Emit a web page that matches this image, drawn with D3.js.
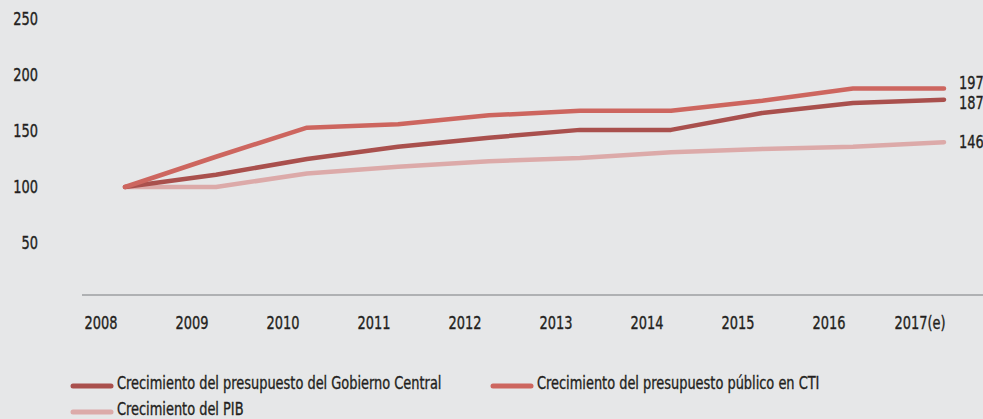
<!DOCTYPE html>
<html>
<head>
<meta charset="utf-8">
<script src="https://cdn.jsdelivr.net/npm/d3@7"></script>
<style>
  body { margin: 0; background: #e6e7e8; }
  svg { display: block; }
  text { font-family: "DejaVu Sans Condensed", "DejaVu Sans", sans-serif; fill: #231f20; stroke: #231f20; stroke-width: 0.35px; font-size: 18px; }
</style>
</head>
<body>
<svg id="chart" width="983" height="419"></svg>
<script>
// years on the x axis
var years = ["2008", "2009", "2010", "2011", "2012", "2013", "2014", "2015", "2016", "2017(e)"];
// index, 2008 = 100
var gobierno = [100, 111, 125, 136, 144, 151, 151, 166, 175, 178];
var cti = [100, 127, 153, 156, 164, 168, 168, 177, 188, 188];
var pib = [100, 100, 112, 118, 123, 126, 131, 134, 136, 140];
var endLabels = ["187", "197", "146"];
var yTicks = [50, 100, 150, 200, 250];
var seriesNames = ["Crecimiento del presupuesto del Gobierno Central", "Crecimiento del presupuesto público en CTI", "Crecimiento del PIB"];
var colors = ["#a9504d", "#cd665f", "#dcaaa9"];

var squeeze = 0.8; // the original font is a narrow one

function place(px, py) {
  return "translate(" + px + "," + py + ") scale(" + squeeze + ",1)";
}

var svg = d3.select("svg");

var x = d3.scalePoint()
    .domain(years)
    .range([101, 920]);
var lineShift = 24; // the lines sit a bit right of the year labels

var y = d3.scaleLinear()
    .domain([0, 250])
    .range([299, 19]);

// y axis labels, no line
svg.append("g")
    .selectAll("text")
    .data(yTicks)
    .join("text")
      .attr("transform", function(d) { return place(38, y(d)); })
      .attr("dy", "0.35em")
      .attr("text-anchor", "end")
      .text(function(d) { return d; });

// x axis line
svg.append("line")
    .attr("x1", 82)
    .attr("x2", 983)
    .attr("y1", 295)
    .attr("y2", 295)
    .attr("stroke", "#9d9fa2")
    .attr("stroke-width", 1.5);

svg.append("g")
    .selectAll("text")
    .data(years)
    .join("text")
      .attr("transform", function(d) { return place(x(d), 323); })
      .attr("dy", "0.35em")
      .attr("text-anchor", "middle")
      .text(function(d) { return d; });

var line = d3.line()
    .x(function(d, i) { return x(years[i]) + lineShift; })
    .y(function(d) { return y(d); });

var allSeries = [pib, gobierno, cti];
var drawColors = [colors[2], colors[0], colors[1]];

svg.append("g")
    .selectAll("path")
    .data(allSeries)
    .join("path")
      .attr("fill", "none")
      .attr("stroke", function(d, i) { return drawColors[i]; })
      .attr("stroke-width", 4.5)
      .attr("stroke-linejoin", "round")
      .attr("stroke-linecap", "round")
      .attr("d", line);

// end labels
var last = years[years.length - 1];
var labelY = [103, 83, 142];
svg.append("g")
    .selectAll("text")
    .data([gobierno, cti, pib])
    .join("text")
      .attr("transform", function(d, i) { return place(x(last) + lineShift + 15, labelY[i]); })
      .attr("dy", "0.35em")
      .text(function(d, i) { return endLabels[i]; });

// legend
var legendPos = [[73, 386], [493, 386], [73, 412]];
var legend = svg.append("g")
    .selectAll("g")
    .data(seriesNames)
    .join("g")
      .attr("transform", function(d, i) { return "translate(" + legendPos[i][0] + "," + legendPos[i][1] + ")"; });

legend.append("line")
    .attr("x1", 0)
    .attr("x2", 38)
    .attr("stroke", function(d, i) { return colors[i]; })
    .attr("stroke-width", 5)
    .attr("stroke-linecap", "round");

legend.append("text")
    .attr("transform", place(44, -3))
    .attr("dy", "0.35em")
    .text(function(d) { return d; });
</script>
</body>
</html>
